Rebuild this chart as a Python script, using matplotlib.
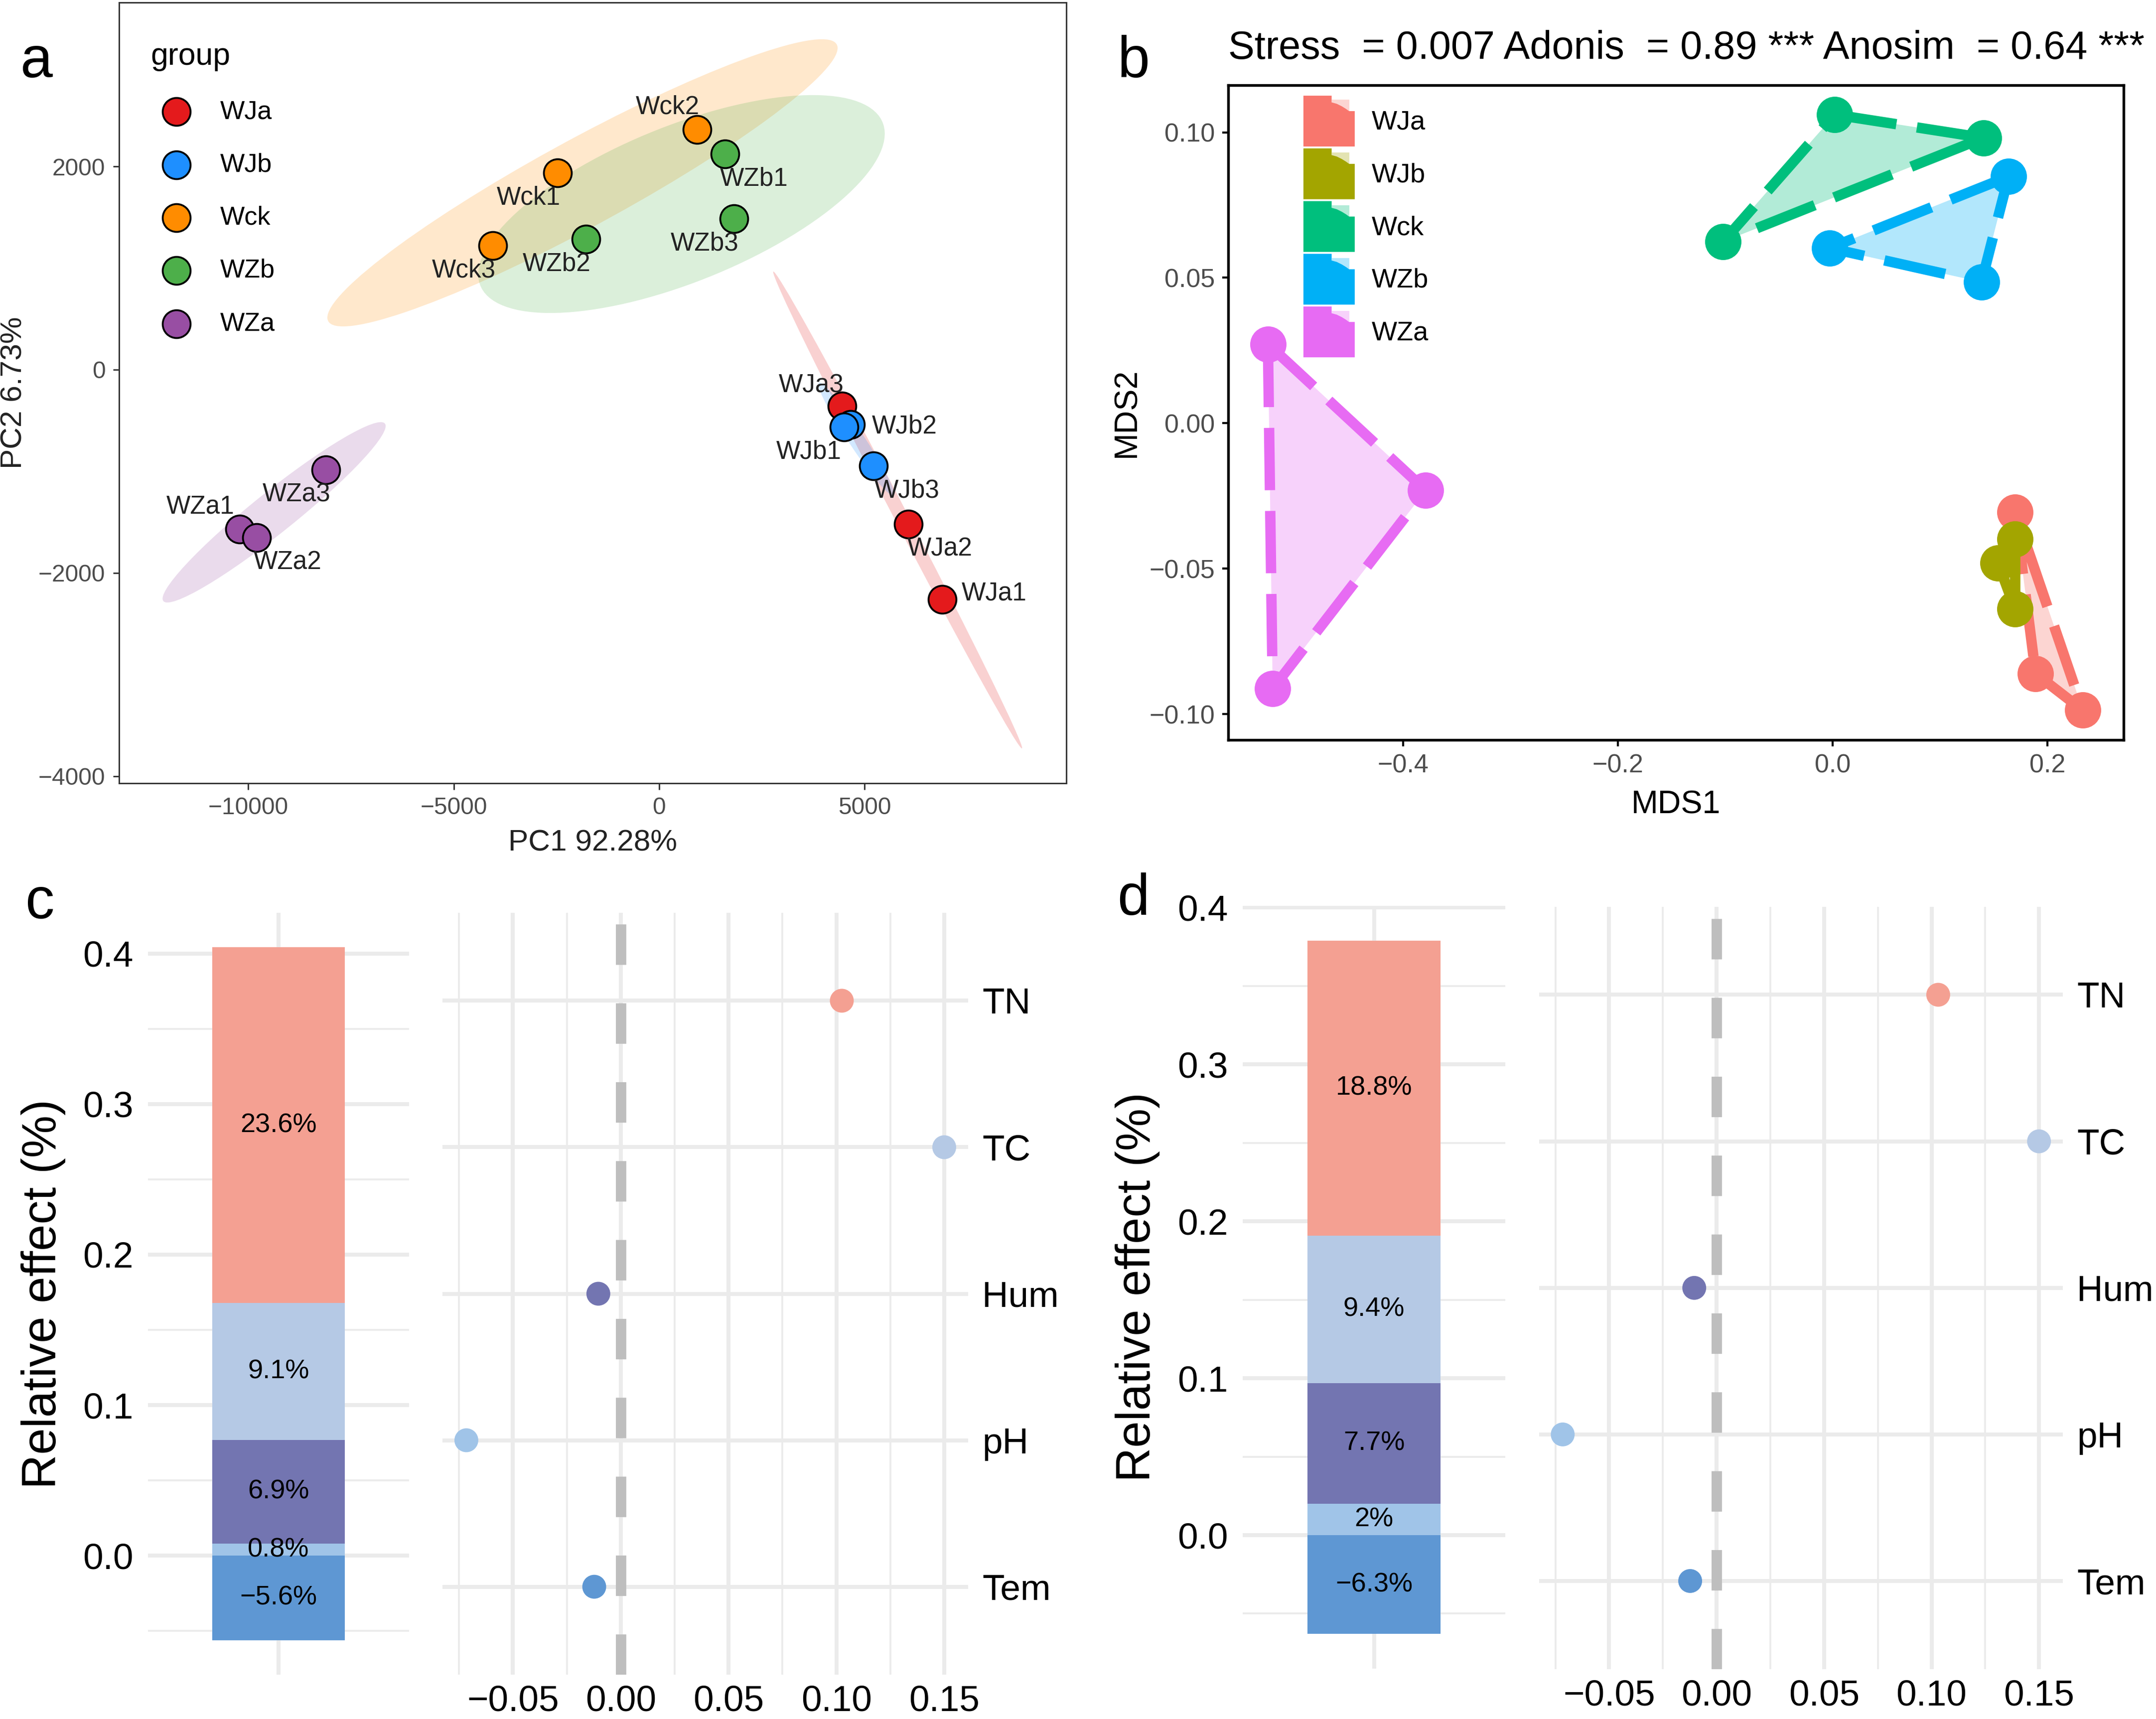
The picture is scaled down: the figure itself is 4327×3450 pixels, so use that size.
import numpy as np
import matplotlib
matplotlib.use('Agg')
import matplotlib.pyplot as plt
from matplotlib.patches import Ellipse, Polygon, Patch
from matplotlib.legend_handler import HandlerBase
from matplotlib.ticker import FuncFormatter, FixedLocator

plt.rcParams['font.family'] = ['Liberation Sans', 'DejaVu Sans']

# ---- data: panel a (PCA)
pca_names = ['WJa1', 'WJa2', 'WJa3', 'WJb2', 'WJb1', 'WJb3', 'Wck1', 'Wck2', 'Wck3',
             'WZb1', 'WZb2', 'WZb3', 'WZa1', 'WZa2', 'WZa3']
pca_group = ['WJa', 'WJa', 'WJa', 'WJb', 'WJb', 'WJb', 'Wck', 'Wck', 'Wck',
             'WZb', 'WZb', 'WZb', 'WZa', 'WZa', 'WZa']
pc1 = [6888, 6071, 4456, 4660, 4507, 5221, -2466, 918, -4048,
       1599, -1786, 1820, -10204, -9796, -8112]
pc2 = [-2262, -1518, -360, -540, -562, -944, 1936, 2361, 1219,
       2122, 1283, 1485, -1571, -1651, -987]
groups = ['WJa', 'WJb', 'Wck', 'WZb', 'WZa']

# ---- data: panel b (NMDS)
nmds_group = ['WJa', 'WJa', 'WJa', 'WJb', 'WJb', 'WJb', 'Wck', 'Wck', 'Wck',
              'WZb', 'WZb', 'WZb', 'WZa', 'WZa', 'WZa']
mds1 = [0.170, 0.189, 0.233, 0.170, 0.154, 0.170, 0.002, 0.1405, -0.102,
        0.1638, -0.003, 0.1386, -0.526, -0.379, -0.5216]
mds2 = [-0.0306, -0.0861, -0.0987, -0.0398, -0.0481, -0.0639, 0.1061, 0.0981, 0.0624,
        0.0848, 0.0602, 0.0485, 0.0272, -0.0231, -0.0913]
nmds_title = 'Stress  = 0.007 Adonis  = 0.89 *** Anosim  = 0.64 ***'

# ---- data: panels c, d (relative effects)
factors = ['TN', 'TC', 'Hum', 'pH', 'Tem']
c_share = [0.236, 0.091, 0.069, 0.008, -0.056]
c_coef = [0.1025, 0.150, -0.0104, -0.0716, -0.0123]
d_share = [0.188, 0.094, 0.077, 0.020, -0.063]
d_coef = [0.1031, 0.150, -0.0104, -0.0716, -0.0123]

# ---- styles
a_colors = {'WJa': '#E41A1C', 'WJb': '#1E8FFF', 'Wck': '#FF8C00', 'WZb': '#4DAF4A', 'WZa': '#984EA3'}
b_colors = {'WJa': '#F8766D', 'WJb': '#A3A500', 'Wck': '#00BF7D', 'WZb': '#00B0F6', 'WZa': '#E76BF3'}
f_colors = {'TN': '#F4A092', 'TC': '#B5C9E5', 'Hum': '#7375B1', 'pH': '#A0C4E8', 'Tem': '#5E97D3'}
label_offset = {'WJa1': (25, 3), 'WJa2': (15, -12), 'WJa3': (-15, 10), 'WJb1': (-17, -12),
                'WJb2': (26, -1), 'WJb3': (16, -12), 'Wck1': (-14, -12), 'Wck2': (-14, 11),
                'Wck3': (-14, -12), 'WZb1': (14, -12), 'WZb2': (-14, -12), 'WZb3': (-14, -12),
                'WZa1': (-19, 11), 'WZa2': (15, -12), 'WZa3': (-14, -12)}

W, H = 4327, 3450
fig = plt.figure(figsize=(W / 300, H / 300), dpi=300)


def box(l, t, r, b):
    return [l / W, 1 - b / H, (r - l) / W, (b - t) / H]


def minus(s):
    return s.replace('-', '\u2212')


# ================= a
axa = fig.add_axes(box(238.5, 5.4, 2140, 1572))
x = np.array(pc1, float)
y = np.array(pc2, float)
g = np.array(pca_group)
r95 = np.sqrt(-2 * np.log(0.05))
for grp in groups:
    m = g == grp
    pts = np.column_stack([x[m], y[m]])
    mu = pts.mean(axis=0)
    cov = np.cov(pts.T)
    vals, vecs = np.linalg.eigh(cov)
    ang = np.degrees(np.arctan2(vecs[1, 1], vecs[0, 1]))
    e = Ellipse(mu, 2 * r95 * np.sqrt(vals[1]), 2 * r95 * np.sqrt(vals[0]), angle=ang,
                facecolor=a_colors[grp], alpha=0.2, edgecolor='none', zorder=1)
    axa.add_patch(e)
for grp in groups:
    m = g == grp
    axa.scatter(x[m], y[m], s=180, color=a_colors[grp], edgecolors='black', linewidths=0.9,
                zorder=3, label=grp)
for i, name in enumerate(pca_names):
    axa.annotate(name, (x[i], y[i]), xytext=label_offset[name], textcoords='offset points',
                 ha='center', va='center', fontsize=12.3, color='#222222', zorder=4)
axa.set_xlim(-13150, 9910)
axa.set_ylim(-4069, 3611)
axa.set_xticks([-10000, -5000, 0, 5000])
axa.set_yticks([-4000, -2000, 0, 2000])
axa.tick_params(labelsize=11.5, labelcolor='#4D4D4D', color='#333333', length=3, width=0.7)
for s in axa.spines.values():
    s.set_color('#333333')
    s.set_linewidth(0.7)
axa.set_xlabel('PC1 92.28%', fontsize=14.5, color='#222222', va='center')
axa.set_ylabel('PC2 6.73%', fontsize=14.5, color='#222222', va='center')
axa.xaxis.set_label_coords(0.5, -0.0766)
axa.yaxis.set_label_coords(-0.1107, 0.5)
leg = axa.legend(title='group', loc='upper left', bbox_to_anchor=(0.0334, 0.950), frameon=False,
                 fontsize=12.5, title_fontsize=15, handlelength=2.0, handletextpad=0.69,
                 labelspacing=1.10, borderpad=0, borderaxespad=0, alignment='left')

# ================= b
axb = fig.add_axes(box(2465, 171, 4262, 1485))
mx = np.array(mds1)
my = np.array(mds2)
ng = np.array(nmds_group)
for grp in groups:
    m = ng == grp
    axb.add_patch(Polygon(np.column_stack([mx[m], my[m]]), closed=True, facecolor=b_colors[grp],
                          alpha=0.3, edgecolor='none', zorder=1))
for grp in groups:
    m = ng == grp
    px = list(mx[m]) + [mx[m][0]]
    py = list(my[m]) + [my[m][0]]
    axb.plot(px, py, color=b_colors[grp], lw=5, dashes=(6, 2), dash_capstyle='butt', zorder=2)
for grp in groups:
    m = ng == grp
    axb.plot(mx[m], my[m], 'o', ms=17.5, color=b_colors[grp], mew=0, zorder=3)
axb.set_xlim(-0.563, 0.271)
axb.set_ylim(-0.1089, 0.1162)
axb.set_xticks([-0.4, -0.2, 0.0, 0.2])
axb.set_yticks([-0.10, -0.05, 0.0, 0.05, 0.10])
axb.xaxis.set_major_formatter(FuncFormatter(lambda v, p: minus('%.1f' % v)))
axb.yaxis.set_major_formatter(FuncFormatter(lambda v, p: minus('%.2f' % v)))
axb.tick_params(labelsize=12.5, labelcolor='#4D4D4D', length=3, width=1)
for s in axb.spines.values():
    s.set_linewidth(1.3)
axb.set_xlabel('MDS1', fontsize=15.5, va='center')
axb.set_ylabel('MDS2', fontsize=15.5, va='center')
axb.xaxis.set_label_coords(0.5, -0.099)
axb.yaxis.set_label_coords(-0.1135, 0.5)
axb.text(0, 1.056, nmds_title, transform=axb.transAxes, fontsize=19, ha='left', va='center')


class NotchKey(HandlerBase):
    def create_artists(self, legend, orig_handle, xdescent, ydescent, width, height, fontsize, trans):
        c = orig_handle.get_facecolor()
        x0, y0 = -xdescent, -ydescent
        main = [(0, 0), (1, 0), (1, 0.696), (0.89, 0.696), (0.83, 0.74), (0.75, 0.79),
                (0.65, 0.84), (0.55, 0.868), (0.55, 1), (0, 1)]
        light = [(0.55, 0.696), (0.89, 0.696), (0.89, 0.918), (0.55, 0.918)]
        p1 = Polygon([(x0 + u * width, y0 + v * height) for u, v in light], facecolor=c,
                     alpha=0.3, edgecolor='none', transform=trans)
        p2 = Polygon([(x0 + u * width, y0 + v * height) for u, v in main], facecolor=c,
                     edgecolor='none', transform=trans)
        return [p1, p2]


handles = [Patch(facecolor=b_colors[grp], label=grp) for grp in groups]
axb.legend(handles=handles, loc='upper left', bbox_to_anchor=(0.084, 0.984), frameon=False,
           fontsize=13, handlelength=1.9, handleheight=2.52, handletextpad=0.62,
           labelspacing=0.07, borderpad=0, borderaxespad=0,
           handler_map={Patch: NotchKey()})


# ================= c, d
def effect_panel(bar_rect, dot_rect, share, coef):
    ax1 = fig.add_axes(bar_rect)
    pos, neg = 0.0, 0.0
    for name, v in zip(factors[::-1], share[::-1]):
        if v >= 0:
            b = pos
            pos += v
        else:
            b = neg
            neg += v
        ax1.bar(0, v, bottom=b, width=0.61, color=f_colors[name], zorder=2)
        ax1.text(0, b + v / 2, minus('%g%%' % round(v * 100, 1)), ha='center', va='center',
                 fontsize=13, zorder=3)
    pad = (pos - neg) * 0.05
    ax1.set_ylim(neg - pad, pos + pad)
    ax1.set_xlim(-0.6, 0.6)
    ax1.set_xticks([0])
    ax1.set_xticklabels([''])
    ax1.set_yticks([0, 0.1, 0.2, 0.3, 0.4])
    ax1.yaxis.set_minor_locator(FixedLocator([-0.05, 0.05, 0.15, 0.25, 0.35]))
    ax1.yaxis.set_major_formatter(FuncFormatter(lambda v, p: minus('%.1f' % v)))
    ax1.grid(True, which='major', color='#EBEBEB', lw=1.9)
    ax1.yaxis.grid(True, which='minor', color='#EBEBEB', lw=0.9)
    ax1.set_axisbelow(True)
    for s in ax1.spines.values():
        s.set_visible(False)
    ax1.tick_params(which='both', length=0, labelsize=17.5, pad=7)
    ax1.set_ylabel('Relative effect (%)', fontsize=23, va='center')
    ax1.yaxis.set_label_coords(-0.40, 0.5)

    ax2 = fig.add_axes(dot_rect)
    ypos = np.arange(len(factors))
    ax2.axvline(0, color='#BEBEBE', lw=5, dashes=(3.9, 3.7), zorder=2)
    ax2.scatter(coef, ypos, s=11.5 ** 2, c=[f_colors[f] for f in factors], edgecolors='none', zorder=3)
    pad = (max(coef) - min(coef)) * 0.05
    ax2.set_xlim(min(coef) - pad, max(coef) + pad)
    ax2.set_ylim(len(factors) - 1 + 0.6, -0.6)
    ax2.set_yticks(ypos)
    ax2.set_yticklabels(factors)
    ax2.yaxis.tick_right()
    ax2.set_xticks([-0.05, 0.0, 0.05, 0.10, 0.15])
    ax2.xaxis.set_minor_locator(FixedLocator([-0.075, -0.025, 0.025, 0.075, 0.125]))
    ax2.xaxis.set_major_formatter(FuncFormatter(lambda v, p: minus('%.2f' % v)))
    ax2.grid(True, which='major', color='#EBEBEB', lw=1.9)
    ax2.xaxis.grid(True, which='minor', color='#EBEBEB', lw=0.9)
    ax2.set_axisbelow(True)
    for s in ax2.spines.values():
        s.set_visible(False)
    ax2.tick_params(which='both', length=0, labelsize=17.5)
    ax2.tick_params(axis='x', pad=5)
    ax2.tick_params(axis='y', pad=6.7)


effect_panel(box(297, 1832, 821, 3361), box(888, 1832, 1943, 3361), c_share, c_coef)
effect_panel(box(2494, 1818, 3021, 3349), box(3088.5, 1820, 4140, 3349.5), d_share, d_coef)

fig.text(73 / W, 1 - 125 / H, 'a', fontsize=28, ha='center', va='center')
fig.text(2275 / W, 1 - 125 / H, 'b', fontsize=28, ha='center', va='center')
fig.text(80 / W, 1 - 1812 / H, 'c', fontsize=28, ha='center', va='center')
fig.text(2275 / W, 1 - 1806 / H, 'd', fontsize=28, ha='center', va='center')

fig.savefig('out.png', dpi=300)
